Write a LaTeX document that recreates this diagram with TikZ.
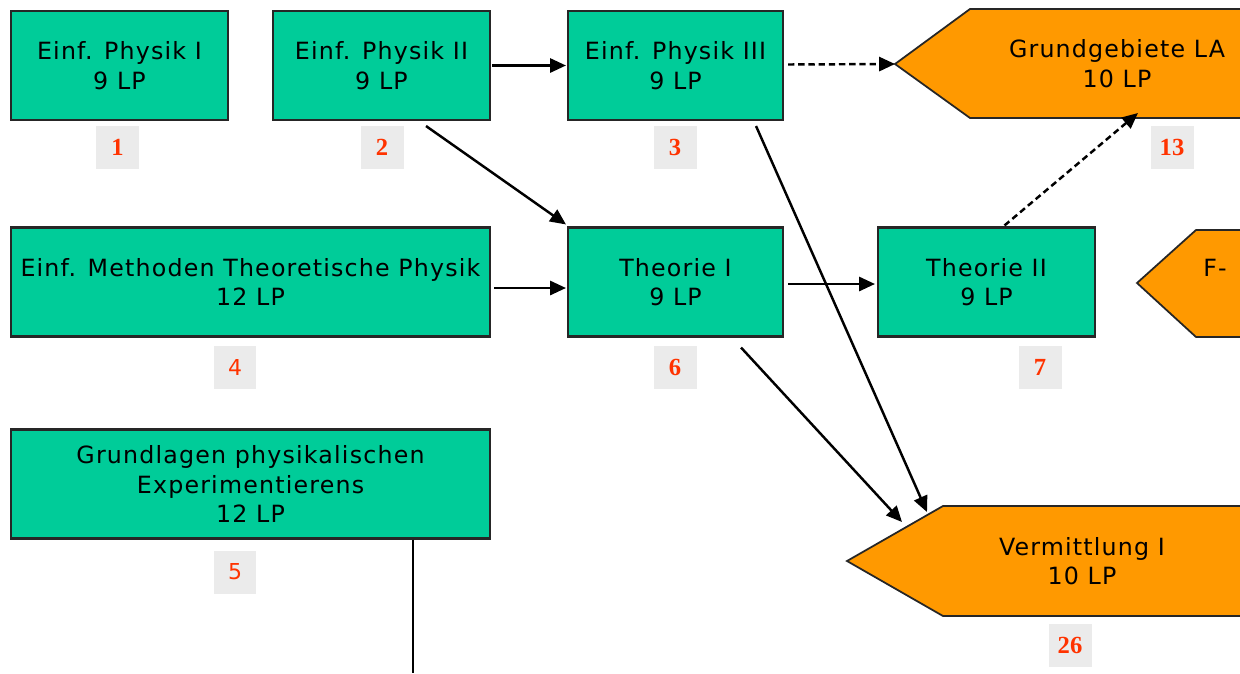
\documentclass[tikz,border=0pt]{standalone}
\usepackage{fontspec}
\setmainfont[LetterSpace=5]{DejaVu Sans}
\newfontfamily\numfont{Liberation Serif}
\newfontfamily\numsans{DejaVu Sans}
\usetikzlibrary{calc,arrows.meta}
\definecolor{boxgreen}{RGB}{0,204,153}
\definecolor{boxorange}{RGB}{255,153,0}
\definecolor{labelgray}{RGB}{235,235,235}
\definecolor{numred}{RGB}{255,51,0}
\begin{document}
\begin{tikzpicture}[x=0.02cm,y=-0.02cm,
  modbox/.style={draw=black!85, line width=1.2pt, fill=boxgreen, align=center,
    font=\fontsize{13.5}{16.8}\selectfont, inner sep=0pt, minimum height=2.18cm},
  orangeshape/.style={draw=black!85, line width=1pt, fill=boxorange},
  otext/.style={align=center, font=\fontsize{13.5}{16.8}\selectfont, inner sep=0pt},
  numlbl/.style={fill=labelgray, minimum width=0.86cm, minimum height=0.86cm, inner sep=0pt,
    text=numred, font=\numfont\bfseries\fontsize{14}{16}\selectfont},
  numlbls/.style={numlbl, font=\numsans\fontsize{12.5}{15}\selectfont},
  arr/.style={line width=1.4pt, -{Triangle[length=9pt,width=8pt]}},
  dasharr/.style={arr, dash pattern=on 3.6pt off 2.2pt},
  plain/.style={line width=1pt}]
\useasboundingbox (0,0) rectangle (1240,673);

% green modules
\node[modbox, minimum width=4.34cm] (b1) at (119.5,65.5) {Einf. Physik I\\9 LP};
\node[modbox, minimum width=4.34cm] (b2) at (381.5,65.5) {Einf. Physik II\\9 LP};
\node[modbox, minimum width=4.30cm] (b3) at (675.5,65.5) {Einf. Physik III\\9 LP};
\node[modbox, minimum width=9.58cm] (b4) at (250.5,282) {Einf. Methoden Theoretische Physik\\12 LP};
\node[modbox, minimum width=4.30cm] (b6) at (675.5,282) {Theorie I\\9 LP};
\node[modbox, minimum width=4.34cm] (b7) at (986.5,282) {Theorie II\\9 LP};
\node[modbox, minimum width=9.58cm] (b5) at (250.5,484) {Grundlagen physikalischen\\Experimentierens\\12 LP};

% orange modules
\draw[orangeshape] (895,64) coordinate (o13tip) -- (970,9) -- (1245,9) -- (1245,118) -- (970,118) -- cycle;
\coordinate (o13bot) at (1138,118);
\node[otext] (o13) at (1117,63.5) {Grundgebiete LA\\10 LP};
\draw[orangeshape] (1137,283) coordinate (oFtip) -- (1196,230) -- (1245,230) -- (1245,337) -- (1196,337) -- cycle;
\node[otext, anchor=west] (oF) at (1203,268) {F-};
\draw[orangeshape] (847,561) coordinate (o26tip) -- (943,506) -- (1245,506) -- (1245,616) -- (943,616) -- cycle;
\node[otext] (o26) at (1082,561) {Vermittlung I\\10 LP};

% number labels
\node[numlbl] (n1) at (117.5,147.5) {1};
\node[numlbl] (n2) at (382,147.5) {2};
\node[numlbl] (n3) at (675,147.5) {3};
\node[numlbl] (n13) at (1172,147.5) {13};
\node[numlbls] (n4) at (235,367) {4};
\node[numlbl] (n6) at (675,367) {6};
\node[numlbl] (n7) at (1040,367) {7};
\node[numlbls] (n5) at (235,572) {5};
\node[numlbl] (n26) at (1070,645) {26};

% connectors
\coordinate (e26a) at (902,522);
\coordinate (e26b) at (927,512);
\coordinate (b5end) at (413,673);
\draw[arr] ($(b2.east)+(1,0)$) -- ($(b3.west)+(-1,0)$);
\draw[dasharr] ($(b3.east)+(4,-1)$) -- (o13tip);
\draw[arr] ($(b2.south east)+(-65,5)$) -- ($(b6.north west)+(-1,-2)$);
\draw[arr] ($(b4.east)+(3,6)$) -- ($(b6.west)+(-1,6)$);
\draw[arr] ($(b6.east)+(4,2)$) -- ($(b7.west)+(-2,2)$);
\draw[dasharr] ($(b7.north)+(18,-1)$) -- ($(o13bot)+(0,-5)$);
\draw[arr] ($(b3.south east)+(-28,5)$) -- (e26b);
\draw[arr] ($(b6.south east)+(-43,10)$) -- (e26a);
\draw[plain] (b5.south -| b5end) -- (b5end);
\end{tikzpicture}
\end{document}
